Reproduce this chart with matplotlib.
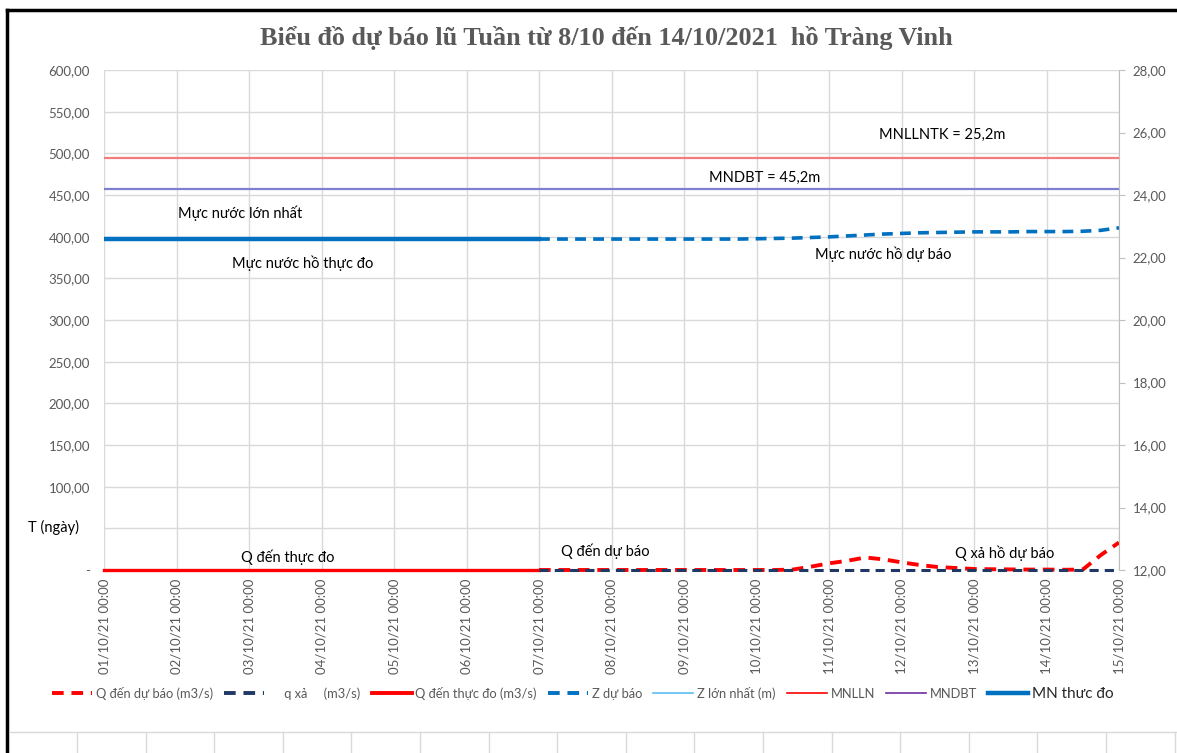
import numpy as np
import pandas as pd
import matplotlib.pyplot as plt
from matplotlib.lines import Line2D

plt.rcParams['font.family'] = ['Lato', 'DejaVu Sans']

# ---- data ----
# measured period (daily)
obs_time = pd.date_range('2021-10-01', '2021-10-07', freq='D')
obs_level = [22.6, 22.6, 22.6, 22.6, 22.6, 22.6, 22.6]   # MN thực đo (m)
obs_inflow = [0, 0, 0, 0, 0, 0, 0]                      # Q đến thực đo (m3/s)

# forecast period (6-hourly)
fc_time = pd.date_range('2021-10-07', '2021-10-15', freq='6h')
fc_inflow = [0, 0, 0, 0,  0, 0, 0, 0,  0, 0, 0, 0,
             0, 0, 0.5, 4,  8, 11, 15, 12.8,  9.2, 6, 3.6, 2.4,
             1.2, 0.9, 0.7, 0.5,  0.5, 0.3, 0.5, 18,  33]
fc_release = [0] * 33
fc_level = [22.59, 22.59, 22.59, 22.59,  22.59, 22.59, 22.59, 22.59,
            22.59, 22.59, 22.59, 22.59,  22.60, 22.61, 22.62, 22.64,
            22.66, 22.69, 22.72, 22.75,  22.77, 22.79, 22.80, 22.81,
            22.82, 22.82, 22.82, 22.83,  22.83, 22.83, 22.84, 22.87,  22.95]

mnlln = 25.2   # MNLLN
mndbt = 24.2   # MNDBT

day_ticks = pd.date_range('2021-10-01', '2021-10-15', freq='D')

# ---- figure ----
fig = plt.figure(figsize=(11.77, 7.53), dpi=100)
ax = fig.add_axes([104 / 1177, 183 / 753, 1015 / 1177, 500 / 753])
ax2 = ax.twinx()

grey = '#595959'
gridc = '#d9d9d9'

# left axis: discharge
ax.plot(obs_time, obs_inflow, color='#ff0000', lw=2.4, zorder=4, clip_on=False)
ax.plot(fc_time, fc_inflow, color='#ff0000', lw=2.8, ls=(0, (3, 2)), zorder=4,
        clip_on=False)
ax.plot(fc_time, fc_release, color='#1f3864', lw=2.2, ls=(0, (3, 2)), zorder=5,
        clip_on=False)

ax.set_ylim(0, 600)
ax.set_yticks(np.arange(0, 601, 50))
ylabs = ['-'] + [f'{v:.2f}'.replace('.', ',') for v in np.arange(50, 601, 50)]
ylabs[1] = ''   # 50 label replaced by the "T (ngày)" note
ax.set_yticklabels(ylabs)
ax.set_xlim(day_ticks[0], day_ticks[-1])
ax.set_xticks(day_ticks)
ax.set_xticklabels([d.strftime('%d/%m/%y %H:%M') for d in day_ticks], rotation=90)
ax.grid(True, color=gridc, lw=1)
ax.set_axisbelow(True)
ax.tick_params(axis='both', length=0, colors=grey, labelsize=9.5, pad=6)
ax.tick_params(axis='y', pad=10)
for s in ax.spines.values():
    s.set_visible(False)

# right axis: water level
ax2.plot(day_ticks[[0, -1]], [mnlln, mnlln], color='#f47c7c', lw=1.6, zorder=2)
ax2.plot(day_ticks[[0, -1]], [mndbt, mndbt], color='#7f7fcf', lw=1.6, zorder=2)
ax2.plot(obs_time, obs_level, color='#0070c0', lw=3.2, zorder=3)
ax2.plot(fc_time, fc_level, color='#0070c0', lw=2.6, ls=(0, (3, 2)), zorder=3)
ax2.set_ylim(12, 28)
ax2.set_yticks(np.arange(12, 29, 2))
ax2.set_yticklabels([f'{v:.2f}'.replace('.', ',') for v in np.arange(12, 29, 2)])
ax2.tick_params(axis='y', length=4, color='#bfbfbf', colors=grey, labelsize=9.5, pad=6)
for k, s in ax2.spines.items():
    s.set_visible(k == 'right')
ax2.spines['right'].set_color('#bfbfbf')

# title
fig.text(606 / 1177, 1 - 38 / 753,
         'Biểu đồ dự báo lũ Tuần từ 8/10 đến 14/10/2021  hồ Tràng Vinh',
         family='Liberation Serif', fontweight='bold', fontsize=18.8,
         color=grey, ha='center', va='center')

# annotations
notes = [
    (942, 135, 'MNLLNTK = 25,2m'),
    (765, 178, 'MNDBT = 45,2m'),
    (240, 213, 'Mực nước lớn nhất'),
    (303, 263, 'Mực nước hồ thực đo'),
    (883, 254, 'Mực nước hồ dự báo'),
    (288, 557, 'Q đến thực đo'),
    (605, 551, 'Q đến dự báo'),
    (1005, 553, 'Q xả hồ dự báo'),
    (53, 527, 'T (ngày)'),
]
for x, y, t in notes:
    fig.text(x / 1177, 1 - y / 753, t, fontsize=10.5, color='black',
             ha='center', va='center')

# legend
handles = [
    Line2D([], [], color='#ff0000', lw=2.8, ls=(0, (3, 2))),
    Line2D([], [], color='#1f3864', lw=2.8, ls=(0, (3, 2))),
    Line2D([], [], color='#ff0000', lw=2.8),
    Line2D([], [], color='#0070c0', lw=2.8, ls=(0, (3, 2))),
    Line2D([], [], color='#5bbcf0', lw=1.2),
    Line2D([], [], color='#ff0000', lw=1.2),
    Line2D([], [], color='#7030a0', lw=1.2),
    Line2D([], [], color='#0070c0', lw=3.2),
]
labels = ['Q đến dự báo (m3/s)', '     q xả     (m3/s)', 'Q đến thực đo (m3/s)',
          'Z dự báo', 'Z lớn nhất (m)', 'MNLLN', 'MNDBT', 'MN thưc đo']
leg = fig.legend(handles, labels, loc='center', ncol=8,
                 bbox_to_anchor=(583 / 1177, 1 - 694 / 753), frameon=False,
                 fontsize=9.3, handlelength=3.1, handletextpad=0.3,
                 columnspacing=0.85, labelcolor=grey)
leg.get_texts()[-1].set_fontsize(11)
leg.get_texts()[-1].set_color('#262626')

# chart frame and sheet cells below
fig.add_artist(Line2D([7 / 1177, 7 / 1177], [0, 1 - 10 / 753], color='black', lw=2.5,
                      transform=fig.transFigure))
fig.add_artist(Line2D([7 / 1177, 1], [1 - 10 / 753, 1 - 10 / 753], color='black', lw=2.5,
                      transform=fig.transFigure))
fig.add_artist(Line2D([10 / 1177, 1], [1 - 732 / 753, 1 - 732 / 753], color='#d9d9d9',
                      lw=1, transform=fig.transFigure))
for cx in np.arange(77, 1177, 68.6):
    fig.add_artist(Line2D([cx / 1177, cx / 1177], [0, 1 - 732 / 753], color='#d9d9d9',
                          lw=1, transform=fig.transFigure))

fig.savefig('out.png', dpi=100)
